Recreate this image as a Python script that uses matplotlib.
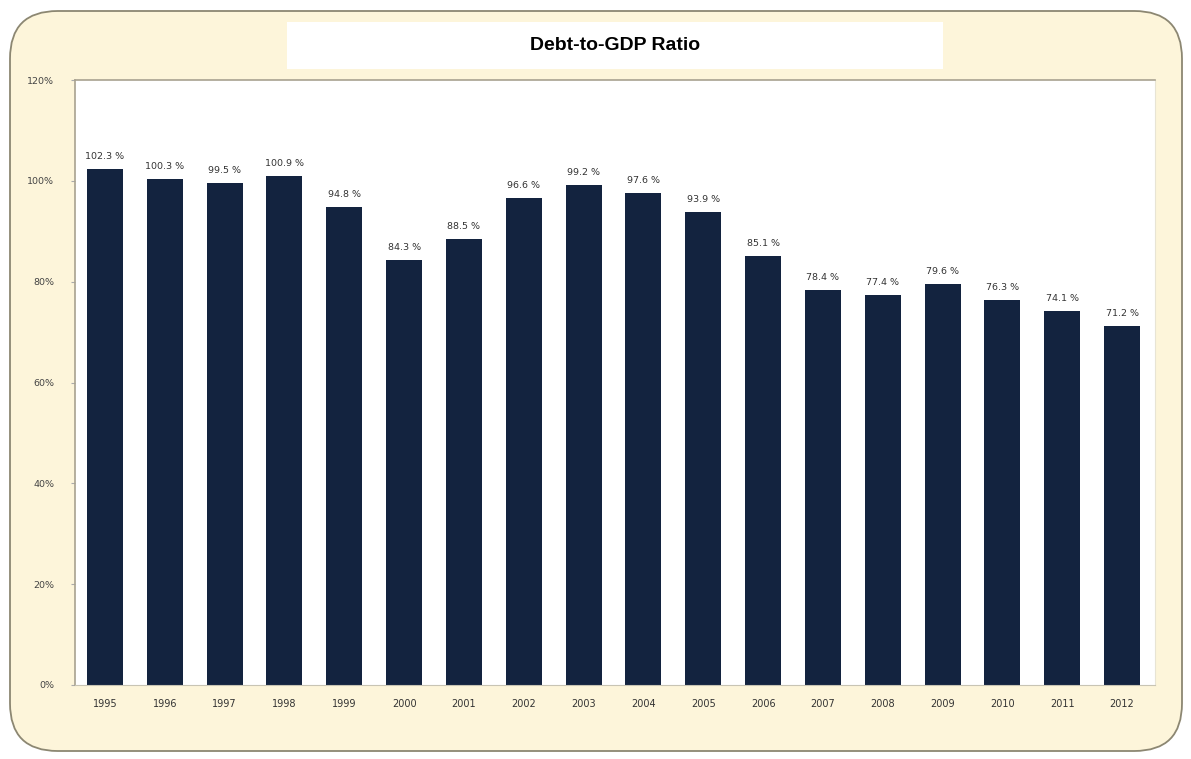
import matplotlib
matplotlib.use("Agg")
import matplotlib.pyplot as plt
from matplotlib.patches import FancyBboxPatch, Rectangle

years = ["1995", "1996", "1997", "1998", "1999", "2000", "2001", "2002", "2003",
         "2004", "2005", "2006", "2007", "2008", "2009", "2010", "2011", "2012"]
ratio = [102.3, 100.3, 99.5, 100.9, 94.8, 84.3, 88.5, 96.6, 99.2,
         97.6, 93.9, 85.1, 78.4, 77.4, 79.6, 76.3, 74.1, 71.2]
yticks = [0, 20, 40, 60, 80, 100, 120]
title = "Debt-to-GDP Ratio"

W, H = 1191, 759
fig = plt.figure(figsize=(W / 100, H / 100), dpi=100)
fig.patch.set_facecolor("white")

cream = "#FDF5DA"
border = FancyBboxPatch((10 / W, 8 / H), (1172 / W), (740 / H),
                        boxstyle="round,pad=0,rounding_size=0.04",
                        transform=fig.transFigure, facecolor=cream,
                        edgecolor="#8c8772", linewidth=1.3, zorder=0,
                        mutation_aspect=W / H)
fig.patches.append(border)

# title box
tb = Rectangle((287 / W, (H - 69) / H), (656 / W), (47 / H),
               transform=fig.transFigure, facecolor="white", edgecolor="none", zorder=1)
fig.patches.append(tb)
fig.text(615 / W, (H - 46) / H, title, ha="center", va="center",
         fontsize=14, fontweight="bold", family="Liberation Sans", zorder=2)

ax = fig.add_axes([75 / W, (H - 685) / H, (1080 / W), (605 / H)])
ax.set_zorder(5)
ax.set_facecolor("white")
x = list(range(len(years)))
ax.bar(x, ratio, width=0.6, color="#13233F", zorder=2)
for xi, v in zip(x, ratio):
    ax.text(xi, v + 1.6, f"{v:.1f} %", ha="center", va="bottom",
            fontsize=6.8, color="#333333", family="DejaVu Sans")

ax.set_xlim(-0.5, 17.55)
ax.set_ylim(0, 120)
ax.set_yticks(yticks)
ax.set_yticklabels([f"{t}%" for t in yticks], fontsize=6.8, color="#444444")
ax.set_xticks(x)
ax.set_xticklabels(years, fontsize=7, color="#333333")
ax.tick_params(axis="x", length=0, pad=10)
ax.tick_params(axis="y", length=3, pad=12, color="#aaaaaa")
for s in ["left", "top"]:
    ax.spines[s].set_color("#a8a290")
    ax.spines[s].set_linewidth(1.2)
ax.spines["bottom"].set_color("#c8c4b4")
ax.spines["right"].set_color("#e8e4d4")

fig.savefig("out.png", dpi=100, facecolor=fig.get_facecolor())
